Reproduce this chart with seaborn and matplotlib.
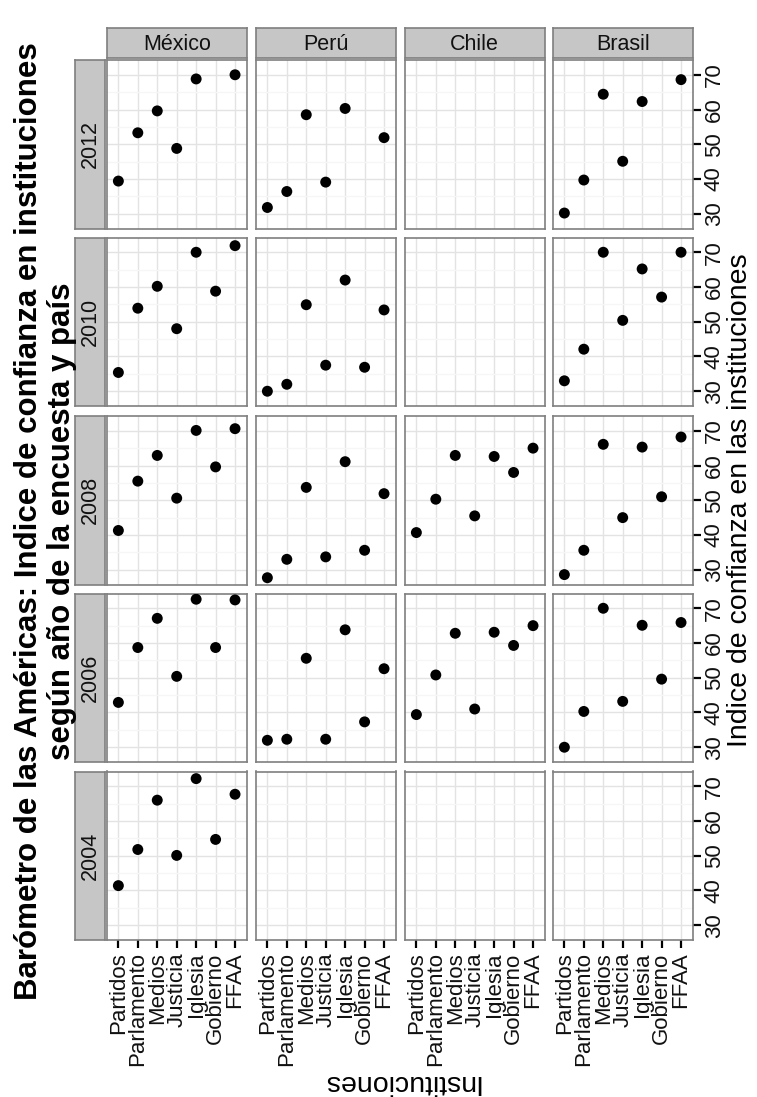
import numpy as np
import pandas as pd
import matplotlib
matplotlib.use("Agg")
import matplotlib.pyplot as plt
import seaborn as sns

# ---------------- data ----------------
instituciones = ["Partidos", "Parlamento", "Medios", "Justicia", "Iglesia", "Gobierno", "FFAA"]
paises = ["México", "Perú", "Chile", "Brasil"]
anios = [2012, 2010, 2008, 2006, 2004]

# values in institution order; None = no data
mexico_2012 = [39.4, 53.3, 59.6, 48.8, 68.8, None, 70.0]
mexico_2010 = [35.4, 53.9, 60.2, 48.0, 70.0, 58.8, 71.9]
mexico_2008 = [41.3, 55.5, 62.9, 50.6, 70.1, 59.6, 70.6]
mexico_2006 = [42.9, 58.7, 67.1, 50.4, 72.6, 58.7, 72.4]
mexico_2004 = [41.4, 51.8, 66.0, 50.1, 72.2, 54.7, 67.7]

peru_2012 = [31.8, 36.4, 58.5, 39.1, 60.3, None, 51.9]
peru_2010 = [30.0, 32.0, 54.9, 37.5, 62.0, 36.9, 53.4]
peru_2008 = [27.7, 33.0, 53.7, 33.7, 61.1, 35.6, 51.9]
peru_2006 = [32.0, 32.3, 55.6, 32.3, 63.8, 37.3, 52.6]

chile_2008 = [40.7, 50.3, 62.9, 45.5, 62.6, 58.0, 65.0]
chile_2006 = [39.4, 50.8, 62.8, 41.0, 63.1, 59.3, 65.0]

brasil_2012 = [30.2, 39.7, 64.4, 45.1, 62.3, None, 68.6]
brasil_2010 = [33.0, 42.1, 70.0, 50.4, 65.2, 57.1, 70.0]
brasil_2008 = [28.6, 35.6, 66.1, 45.0, 65.3, 51.0, 68.2]
brasil_2006 = [30.0, 40.3, 70.0, 43.2, 65.1, 49.6, 65.9]

series = {
    ("México", 2012): mexico_2012, ("México", 2010): mexico_2010,
    ("México", 2008): mexico_2008, ("México", 2006): mexico_2006,
    ("México", 2004): mexico_2004,
    ("Perú", 2012): peru_2012, ("Perú", 2010): peru_2010,
    ("Perú", 2008): peru_2008, ("Perú", 2006): peru_2006,
    ("Chile", 2008): chile_2008, ("Chile", 2006): chile_2006,
    ("Brasil", 2012): brasil_2012, ("Brasil", 2010): brasil_2010,
    ("Brasil", 2008): brasil_2008, ("Brasil", 2006): brasil_2006,
}

rows = []
for (pais, anio), vals in series.items():
    for inst, v in zip(instituciones, vals):
        if v is not None:
            rows.append({"pais": pais, "anio": anio, "institucion": inst,
                         "pos": instituciones.index(inst), "indice": v})
df = pd.DataFrame(rows)

# ---------------- style ----------------
sns.set_theme(style="white")
plt.rcParams["font.family"] = ["Liberation Sans", "DejaVu Sans"]

W, H = 757, 1097
fig = plt.figure(figsize=(W / 100, H / 100), dpi=100)

col_left = [106.7, 255.7, 404.7, 552.7]
row_top = [60.0, 237.5, 416.0, 593.5, 771.5]
pw, ph = 140.0, 168.5
strip_th = 30.0

def fax(left, top, w, h):
    return fig.add_axes([left / W, 1 - (top + h) / H, w / W, h / H])

BORDER = "#7F7F7F"
STRIP = "#C6C6C6"
TXT_STRIP = 15.5
TXT_TICK = 16
TXT_COLOR = "#111111"

for r, anio in enumerate(anios):
    for c, pais in enumerate(paises):
        ax = fax(col_left[c], row_top[r], pw, ph)
        sub = df[(df.pais == pais) & (df.anio == anio)]
        if len(sub):
            sns.scatterplot(data=sub, x="pos", y="indice", ax=ax, color="black",
                            s=62, edgecolor="none", legend=False, zorder=3)
        ax.set_xlim(-0.6, 6.6)
        ax.set_ylim(25.75, 74.25)
        ax.set_xticks(range(len(instituciones)))
        ax.set_yticks([30, 40, 50, 60, 70])
        ax.set_yticks([35, 45, 55, 65], minor=True)
        ax.set_facecolor("white")
        ax.set_axisbelow(True)
        ax.grid(True, which="major", color="#E3E3E3", lw=1.0)
        ax.grid(True, which="minor", axis="y", color="#F6F6F6", lw=1.0)
        for sp in ax.spines.values():
            sp.set_color(BORDER)
            sp.set_linewidth(1.2)
        ax.set_xlabel("")
        ax.set_ylabel("")
        ax.tick_params(which="minor", length=0)
        # x ticks
        if r == len(anios) - 1:
            ax.set_xticklabels(instituciones)
            ax.tick_params(axis="x", bottom=True, labelbottom=True, length=6,
                           width=1.6, color="black", labelsize=TXT_TICK,
                           labelrotation=90, pad=3, labelcolor=TXT_COLOR)
        else:
            ax.tick_params(axis="x", bottom=False, labelbottom=False)
        # y ticks
        if c == len(paises) - 1:
            ax.yaxis.tick_right()
            ax.tick_params(axis="y", which="major", left=False, right=True,
                           labelleft=False, labelright=True, length=6, width=1.6,
                           color="black", labelsize=TXT_TICK, pad=2,
                           labelcolor=TXT_COLOR)
            for lab in ax.get_yticklabels():
                lab.set_rotation(90)
                lab.set_va("center")
        else:
            ax.tick_params(axis="y", left=False, right=False,
                           labelleft=False, labelright=False)

        # country strip
        if r == 0:
            sax = fax(col_left[c], row_top[0] - strip_th - 2, pw, strip_th)
            sax.set_facecolor(STRIP)
            sax.set_xticks([]); sax.set_yticks([])
            for sp in sax.spines.values():
                sp.set_color(BORDER); sp.set_linewidth(1.2)
            sax.text(0.5, 0.45, pais, ha="center", va="center",
                     fontsize=TXT_STRIP, color=TXT_COLOR, transform=sax.transAxes)
    # year strip
    yax = fax(75.0, row_top[r], strip_th, ph)
    yax.set_facecolor(STRIP)
    yax.set_xticks([]); yax.set_yticks([])
    for sp in yax.spines.values():
        sp.set_color(BORDER); sp.set_linewidth(1.2)
    yax.text(0.5, 0.5, str(anio), ha="center", va="center", rotation=90,
             fontsize=TXT_STRIP, color=TXT_COLOR, transform=yax.transAxes)

# axis titles
fig.text(740 / W, 1 - 500 / H, "Indice de confianza en las instituciones",
         rotation=90, ha="center", va="center", fontsize=20.5, color="black")
fig.text(400 / W, 1 - 1082 / H, "Instituciones", rotation=180,
         ha="center", va="center", fontsize=20.5, color="black")

# title
fig.text(29 / W, 1 - 521 / H,
         "Barómetro de las Américas: Indice de confianza en instituciones",
         rotation=90, ha="center", va="center", fontsize=22.5,
         fontweight="bold", color="black")
fig.text(62 / W, 1 - 521 / H, "según año de la encuesta y país",
         rotation=90, ha="center", va="center", fontsize=22.5,
         fontweight="bold", color="black")

fig.savefig("out.png", dpi=100)
